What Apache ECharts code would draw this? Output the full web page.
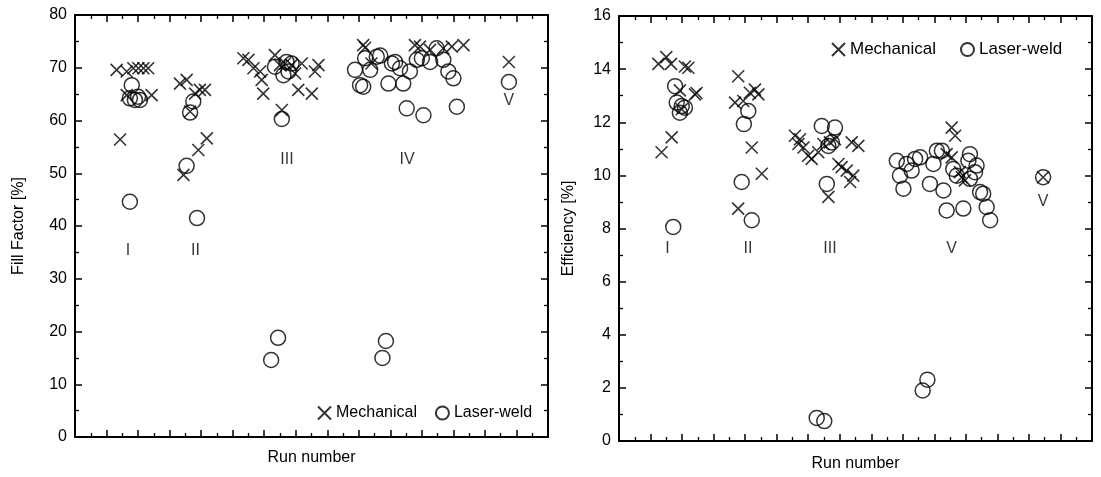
<!DOCTYPE html>
<html><head><meta charset="utf-8">
<script src="https://cdn.jsdelivr.net/npm/echarts@6/dist/echarts.min.js"></script>
<style>html,body{margin:0;padding:0;background:#fff}#c{width:1101px;height:477px}</style>
</head><body><div id="c"></div>
<script>
// ---- data (x = run position, y = value) ----
const ffMechanical = [
  [1.32,69.6],[1.64,69.3],[1.85,69.9],[2.01,69.9],[2.17,69.9],[2.32,69.9],[1.64,64.8],[2.43,64.8],[1.43,56.4],
  [3.33,67.0],[3.54,67.7],[3.81,65.1],[3.96,65.8],[4.12,65.8],[4.18,56.6],[3.91,54.4],[3.44,49.7],[3.65,61.7],
  [5.34,71.8],[5.50,71.5],[5.66,69.9],[5.87,69.3],[5.92,67.7],[5.97,65.1],[6.34,72.4],[6.50,70.5],[6.66,70.8],
  [6.87,70.5],[6.98,68.9],[7.19,70.8],[7.08,65.8],[7.51,65.1],[7.61,69.3],[7.72,70.5],[6.56,62.0],
  [9.14,74.3],[9.20,73.8],[10.78,74.3],[10.94,74.0],[11.26,73.4],[11.68,73.7],[11.95,74.0],[12.32,74.3],[9.40,70.8],
  [13.76,71.1]
];
const ffLaser = [
  [1.80,66.7],[1.74,64.2],[1.90,63.9],[2.06,63.9],[2.00,64.5],[1.74,44.6],
  [3.75,63.6],[3.65,61.5],[3.54,51.4],[3.87,41.5],
  [6.34,70.2],[6.71,71.1],[6.77,69.3],[6.61,68.6],[6.87,70.8],[6.56,60.3],[6.22,14.6],[6.44,18.8],
  [8.88,69.6],[9.04,66.7],[9.14,66.4],[9.20,71.8],[9.36,69.6],[9.57,72.1],[9.94,67.0],[10.15,71.1],[10.31,69.9],
  [10.41,67.0],[10.62,69.3],[10.84,71.5],[11.26,71.1],[11.47,73.7],[11.68,71.5],[11.84,69.3],[12.00,68.0],
  [10.52,62.3],[11.05,61.0],[12.11,62.6],[9.68,72.3],[10.05,70.8],[11.00,71.8],[9.75,15.0],[9.86,18.2],
  [13.76,67.3]
];
const effMechanical = [
  [1.25,14.2],[1.50,14.45],[1.65,14.2],[2.09,14.1],[2.20,14.05],[1.93,13.2],[2.41,13.05],[2.46,13.1],[1.99,12.49],[1.67,11.43],[1.35,10.87],
  [3.78,13.73],[3.68,12.74],[3.94,12.8],[4.15,13.11],[4.31,13.23],[4.42,13.05],[4.21,11.05],[4.53,10.06],[3.78,8.75],
  [5.58,11.49],[5.74,11.36],[5.69,11.18],[5.85,11.05],[6.00,10.74],[6.11,10.62],[6.32,10.87],[6.48,11.18],[6.69,11.24],
  [6.85,11.36],[6.96,10.43],[7.06,10.31],[7.22,10.18],[7.38,11.24],[7.59,11.11],[7.43,9.99],[7.33,9.75],[6.64,9.19],
  [10.55,11.8],[10.66,11.49],[10.39,10.8],[10.55,10.68],[10.87,9.93],[10.97,9.81],[10.81,10.12],
  [13.45,9.93]
];
const effLaser = [
  [1.78,13.36],[1.83,12.74],[1.99,12.61],[2.09,12.55],[1.93,12.36],[1.72,8.06],
  [4.10,12.42],[3.96,11.93],[3.89,9.75],[4.21,8.31],
  [6.43,11.86],[6.85,11.8],[6.75,11.24],[6.64,11.11],[6.59,9.68],[6.27,0.87],[6.51,0.75],
  [8.81,10.55],[8.91,9.99],[9.02,9.5],[9.12,10.43],[9.28,10.18],[9.39,10.62],[9.55,10.68],[9.86,9.68],[9.97,10.43],
  [10.08,10.93],[10.29,9.43],[10.24,10.93],[10.39,8.68],[10.92,8.75],[10.60,10.24],[10.71,9.99],[11.13,10.8],
  [11.08,10.55],[11.34,10.37],[11.29,10.12],[11.13,9.87],[11.45,9.37],[11.55,9.31],[11.66,8.81],[11.77,8.31],
  [9.63,1.9],[9.78,2.31],
  [13.45,9.93]
];
const ffGroupLabels = [['I',1.68,35.4],['II',3.82,35.4],['III',6.72,52.5],['IV',10.53,52.5],['V',13.76,63.8]];
const effGroupLabels = [['I',1.54,7.24],['II',4.09,7.24],['III',6.69,7.24],['V',10.55,7.24],['V',13.45,9.0]];
const seriesNames = ['Mechanical','Laser-weld'];
const ffAxis = {name:'Fill Factor [%]', min:0, max:80, interval:10};
const effAxis = {name:'Efficiency [%]', min:0, max:16, interval:2};
const runAxis = {name:'Run number', min:0, max:15, interval:1};

// ---- styling ----
const FONT = 'Liberation Sans, Arial, sans-serif';
const CROSS = 'path://M0,0L10,10M10,0L0,10';
const black = '#000';

function xAx(grid, pos, gap) {
  return {
    type:'value', gridIndex:grid, position:pos, min:runAxis.min, max:runAxis.max, interval:runAxis.interval,
    axisLine:{show:true, onZero:false, lineStyle:{color:black, width:2}},
    axisTick:{show:true, inside:true, length:7, lineStyle:{color:black, width:1.5}},
    minorTick:{show:true, splitNumber:2, length:4, lineStyle:{color:black, width:1.3}},
    axisLabel:{show:false}, splitLine:{show:false}, minorSplitLine:{show:false},
    name: pos==='bottom' ? runAxis.name : '', nameLocation:'middle', nameGap:gap,
    nameTextStyle:{fontFamily:FONT, fontSize:16, color:black}
  };
}
function yAx(grid, pos, ax, gap) {
  return {
    type:'value', gridIndex:grid, position:pos, min:ax.min, max:ax.max, interval:ax.interval,
    axisLine:{show:true, onZero:false, lineStyle:{color:black, width:2}},
    axisTick:{show:true, inside:true, length:7, lineStyle:{color:black, width:1.5}},
    minorTick:{show:true, splitNumber:2, length:4, lineStyle:{color:black, width:1.3}},
    axisLabel:{show:pos==='left', fontFamily:FONT, fontSize:16, color:black, margin:8},
    splitLine:{show:false}, minorSplitLine:{show:false},
    name: pos==='left' ? ax.name : '', nameLocation:'middle', nameGap:gap,
    nameTextStyle:{fontFamily:FONT, fontSize:16, color:black}
  };
}
function mech(data, xi, yi) {
  return {name:seriesNames[0], type:'scatter', xAxisIndex:xi, yAxisIndex:yi, data:data,
    symbol:CROSS, symbolSize:12,
    itemStyle:{color:'rgba(0,0,0,0)', borderColor:black, borderWidth:1.6},
    emphasis:{disabled:true}, silent:true, z:3};
}
function laser(data, xi, yi) {
  return {name:seriesNames[1], type:'scatter', xAxisIndex:xi, yAxisIndex:yi, data:data,
    symbol:'circle', symbolSize:15,
    itemStyle:{color:'rgba(0,0,0,0)', borderColor:black, borderWidth:1.5},
    emphasis:{disabled:true}, silent:true, z:2};
}
function labels(list, xi, yi) {
  return {type:'scatter', xAxisIndex:xi, yAxisIndex:yi, symbolSize:1, silent:true,
    itemStyle:{color:'rgba(0,0,0,0)'},
    data:list.map(d=>({name:d[0], value:[d[1], d[2]]})),
    label:{show:true, position:'inside', formatter:p=>p.name, fontFamily:FONT, fontSize:16, color:black}};
}
function legend(left, top, size, gap) {
  return {left:left, top:top, orient:'horizontal', itemGap:gap, itemWidth:13, itemHeight:13,
    data:seriesNames, selectedMode:false,
    textStyle:{fontFamily:FONT, fontSize:size, color:black}};
}

const chart = echarts.init(document.getElementById('c'), null, {renderer:'canvas'});
chart.setOption({
  animation:false,
  backgroundColor:'#fff',
  grid:[
    {left:75, top:15, width:473, height:422},
    {left:619, top:16, width:473, height:428}
  ],
  xAxis:[xAx(0,'bottom',13), xAx(0,'top',0), xAx(1,'bottom',15), xAx(1,'top',0)],
  yAxis:[yAx(0,'left',ffAxis,48), yAx(0,'right',ffAxis,0), yAx(1,'left',effAxis,42), yAx(1,'right',effAxis,0)],
  legend:[legend(312,400,16,18), legend(826,36,17,24)],
  series:[
    mech(ffMechanical,0,0), laser(ffLaser,0,0), labels(ffGroupLabels,0,0),
    mech(effMechanical,2,2), laser(effLaser,2,2), labels(effGroupLabels,2,2)
  ]
});
</script></body></html>
